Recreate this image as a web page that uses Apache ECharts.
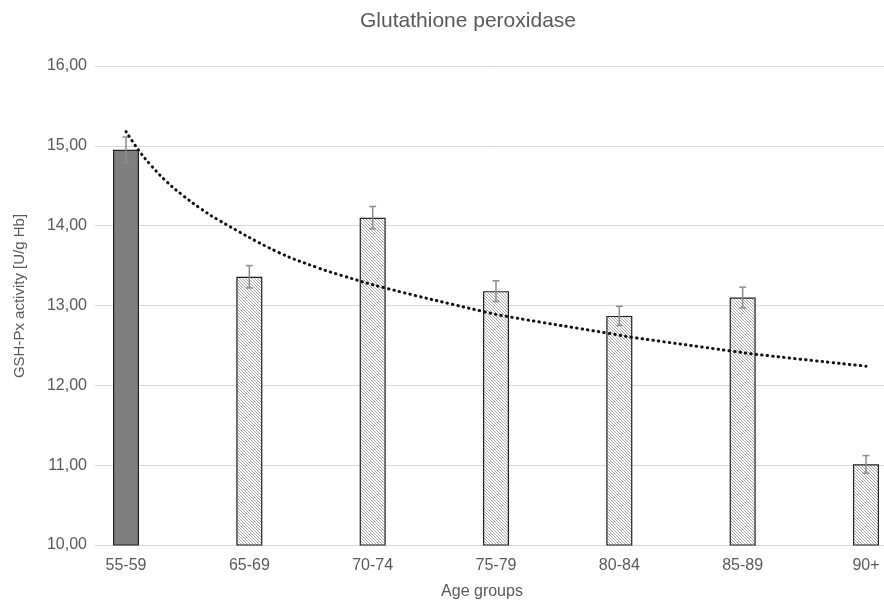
<!DOCTYPE html>
<html>
<head>
<meta charset="utf-8">
<script src="https://cdn.jsdelivr.net/npm/echarts@6/dist/echarts.min.js"></script>
<style>
html,body{margin:0;padding:0;background:#fff;}
#c{width:884px;height:601px;}
</style>
</head>
<body>
<div id="c"></div>
<script>
// ---- data ----
const categories = ['55-59', '65-69', '70-74', '75-79', '80-84', '85-89', '90+'];
const activity = [14.95, 13.36, 14.10, 13.18, 12.87, 13.10, 11.01];
const errors = [0.16, 0.14, 0.14, 0.13, 0.12, 0.13, 0.11];
// trendline points: [position along category axis, value]
const trendPos = [0, 0.1, 0.2, 0.33, 0.46, 0.6, 0.75, 1.23, 1.56, 1.74, 2.1, 2.91, 3.1, 3.92, 4.11, 4.91, 5.1, 6];
const trendVal = [15.18, 14.95, 14.76, 14.55, 14.38, 14.22, 14.07, 13.67, 13.47, 13.38, 13.22, 12.92, 12.86, 12.65, 12.60, 12.43, 12.39, 12.24];
const yTicks = [10, 11, 12, 13, 14, 15, 16];
const titleText = 'Glutathione peroxidase';
const xName = 'Age groups';
const yName = 'GSH-Px activity [U/g Hb]';

const FONT = '"Liberation Sans", Arial, sans-serif';
const TXT = '#595959';

// hatch pattern
const pat = document.createElement('canvas');
pat.width = 3; pat.height = 3;
const pc = pat.getContext('2d');
pc.fillStyle = '#ffffff';
pc.fillRect(0, 0, 3, 3);
pc.strokeStyle = '#9a9a9a';
pc.lineWidth = 0.9;
pc.beginPath();
pc.moveTo(-1, -1); pc.lineTo(4, 4);
pc.moveTo(2, -1); pc.lineTo(4, 1);
pc.moveTo(-1, 2); pc.lineTo(1, 4);
pc.stroke();

const barData = activity.map((v, i) => ({
  value: [i, v],
  itemStyle: i === 0 ? { color: '#7f7f7f' } : { color: { image: pat, repeat: 'repeat' } }
}));
const errData = activity.map((v, i) => [i, v - errors[i], v + errors[i]]);
const trendData = trendPos.map((p, i) => [p, trendVal[i]]);

const chart = echarts.init(document.getElementById('c'), null, { renderer: 'canvas' });
chart.setOption({
  animation: false,
  backgroundColor: '#ffffff',
  textStyle: { fontFamily: FONT },
  grid: { left: 95, right: 0, top: 66, bottom: 56, containLabel: false },
  xAxis: {
    type: 'value',
    min: -0.2514,
    max: 6.146,
    splitLine: { show: false },
    axisTick: { show: false },
    axisLine: { show: true, onZero: false, lineStyle: { color: '#d9d9d9', width: 1 } },
    axisLabel: {
      customValues: categories.map((c, i) => i),
      formatter: v => categories[Math.round(v)] || '',
      color: TXT, fontSize: 16, fontFamily: FONT, margin: 13,
      showMinLabel: true, showMaxLabel: true
    }
  },
  yAxis: {
    type: 'value',
    min: yTicks[0],
    max: yTicks[yTicks.length - 1],
    interval: 1,
    axisLine: { show: false },
    axisTick: { show: false },
    splitLine: { lineStyle: { color: '#d9d9d9', width: 1 } },
    axisLabel: {
      formatter: v => v.toFixed(2).replace('.', ','),
      color: TXT, fontSize: 16, fontFamily: FONT, margin: 8
    }
  },
  series: [
    {
      type: 'bar',
      data: barData,
      barWidth: 26,
      itemStyle: { borderColor: '#1f1f1f', borderWidth: 1.2 },
      z: 2
    },
    {
      type: 'custom',
      data: errData,
      z: 3,
      renderItem: function (params, api) {
        const x = api.value(0);
        const lo = api.coord([x, api.value(1)]);
        const hi = api.coord([x, api.value(2)]);
        const hw = 3.5;
        const st = { stroke: '#8c8c8c', lineWidth: 1.5 };
        return {
          type: 'group',
          children: [
            { type: 'line', shape: { x1: lo[0], y1: lo[1], x2: hi[0], y2: hi[1] }, style: st },
            { type: 'line', shape: { x1: lo[0] - hw, y1: lo[1], x2: lo[0] + hw, y2: lo[1] }, style: st },
            { type: 'line', shape: { x1: hi[0] - hw, y1: hi[1], x2: hi[0] + hw, y2: hi[1] }, style: st }
          ]
        };
      }
    },
    {
      type: 'line',
      data: trendData,
      smooth: 0.4,
      showSymbol: false,
      symbol: 'none',
      z: 4,
      lineStyle: { color: '#111111', width: 3, type: [0.5, 5], cap: 'round' }
    }
  ],
  graphic: [
    { type: 'text', x: 468, y: 21, style: { text: titleText, fill: TXT, font: '21px ' + FONT, align: 'center', verticalAlign: 'middle' } },
    { type: 'text', x: 482, y: 592, style: { text: xName, fill: TXT, font: '16px ' + FONT, align: 'center', verticalAlign: 'middle' } },
    { type: 'text', x: 20, y: 296, rotation: Math.PI / 2, style: { text: yName, fill: TXT, font: '15px ' + FONT, align: 'center', verticalAlign: 'middle' } }
  ]
});
</script>
</body>
</html>
